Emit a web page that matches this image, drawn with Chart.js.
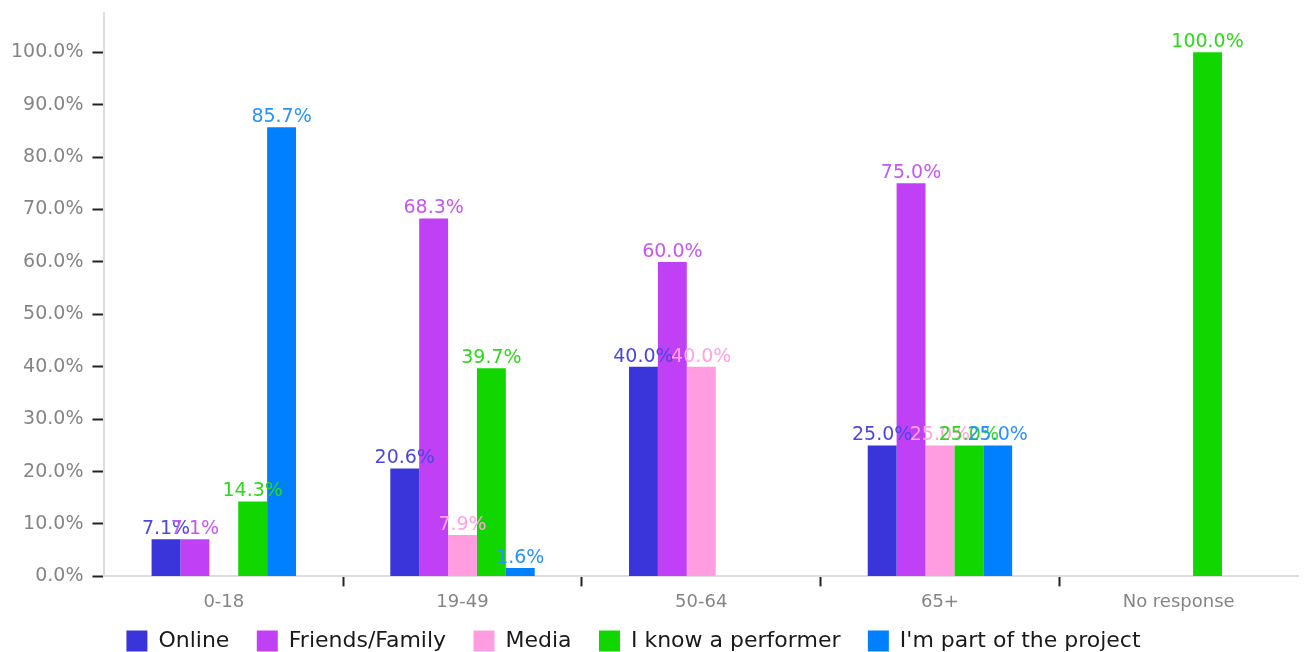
<!DOCTYPE html>
<html>
<head>
<meta charset="utf-8">
<script src="https://cdn.jsdelivr.net/npm/chart.js@4"></script>
<style>
  html, body { margin: 0; padding: 0; background: #fff; }
  #wrap { width: 1304px; height: 652px; }
</style>
</head>
<body>
<div id="wrap"><canvas id="sourceChart"></canvas></div>
<script>
const ageGroups = ['0-18', '19-49', '50-64', '65+', 'No response'];
const online = [7.1, 20.6, 40.0, 25.0, null];
const friendsFamily = [7.1, 68.3, 60.0, 75.0, null];
const media = [null, 7.9, 40.0, 25.0, null];
const knowPerformer = [14.3, 39.7, null, 25.0, 100.0];
const partOfProject = [85.7, 1.6, null, 25.0, null];
const yTicks = [0, 10, 20, 30, 40, 50, 60, 70, 80, 90, 100];

const FONT = '"DejaVu Sans", Verdana, sans-serif';
const ctx = document.getElementById('sourceChart').getContext('2d');

// draws the value above each bar, in the bar's colour
const barLabels = {
    id: 'barLabels',
    afterDatasetsDraw(chart) {
        const c = chart.ctx;
        c.save();
        c.font = '19px ' + FONT;
        c.textAlign = 'center';
        c.textBaseline = 'alphabetic';
        chart.data.datasets.forEach((ds, i) => {
            const meta = chart.getDatasetMeta(i);
            meta.data.forEach((bar, j) => {
                const v = ds.data[j];
                if (v === null || v === undefined) return;
                c.fillStyle = ds.labelColor;
                c.fillText(v.toFixed(1) + '%', bar.x, bar.y - 5);
            });
        });
        c.restore();
    }
};

// hide the x tick marks at both ends of the axis
const edgeTick = (c) => (c.index === undefined || c.index === 0 || c.index >= ageGroups.length) ? 'rgba(0,0,0,0)' : '#222';

// wider gaps between legend entries, last one padded so the row sits a bit left
const legendLabels = (chart) => {
    const items = Chart.defaults.plugins.legend.labels.generateLabels(chart);
    return items.map((item, i) => ({
        ...item,
        text: item.text + (i === items.length - 1 ? '\u2003\u2002' : '\u2002\u2009')
    }));
};

new Chart(ctx, {
    type: 'bar',
    data: {
        labels: ageGroups,
        datasets: [
            { label: 'Online', data: online, backgroundColor: '#3a35db', labelColor: '#4b47df' },
            { label: 'Friends/Family', data: friendsFamily, backgroundColor: '#c040f5', labelColor: '#c558f5' },
            { label: 'Media', data: media, backgroundColor: '#ff9de0', labelColor: '#ffa3e2' },
            { label: 'I know a performer', data: knowPerformer, backgroundColor: '#12d600', labelColor: '#2ed81c' },
            { label: "I'm part of the project", data: partOfProject, backgroundColor: '#0080ff', labelColor: '#2a92ff' }
        ]
    },
    options: {
        responsive: true,
        maintainAspectRatio: false,
        animation: false,
        layout: {
            padding: { top: 4, right: 6, left: 2, bottom: -10 }
        },
        datasets: {
            bar: {
                categoryPercentage: 0.605,
                barPercentage: 1.0
            }
        },
        plugins: {
            legend: {
                position: 'bottom',
                labels: {
                    color: '#1a1a1a',
                    boxWidth: 21,
                    boxHeight: 21,
                    padding: 12,
                    font: { family: FONT, size: 22 },
                    generateLabels: legendLabels
                }
            },
            tooltip: { enabled: false }
        },
        scales: {
            y: {
                min: 0,
                max: 107.6,
                afterBuildTicks: (axis) => {
                    axis.ticks = yTicks.map(v => ({ value: v }));
                },
                ticks: {
                    color: '#858585',
                    padding: 9,
                    font: { family: FONT, size: 19, lineHeight: 0.37 },
                    callback: (v) => Number(v).toFixed(1) + '%'
                },
                grid: {
                    drawOnChartArea: false,
                    tickLength: 12,
                    tickColor: '#222',
                    tickWidth: 2
                },
                border: { color: '#dddddd', width: 2 }
            },
            x: {
                ticks: {
                    color: '#858585',
                    padding: 5,
                    font: { family: FONT, size: 18 }
                },
                grid: {
                    offset: true,
                    drawOnChartArea: false,
                    tickLength: 10,
                    tickColor: edgeTick,
                    tickWidth: 2
                },
                border: { color: '#dddddd', width: 2 }
            }
        }
    },
    plugins: [barLabels]
});
</script>
</body>
</html>
